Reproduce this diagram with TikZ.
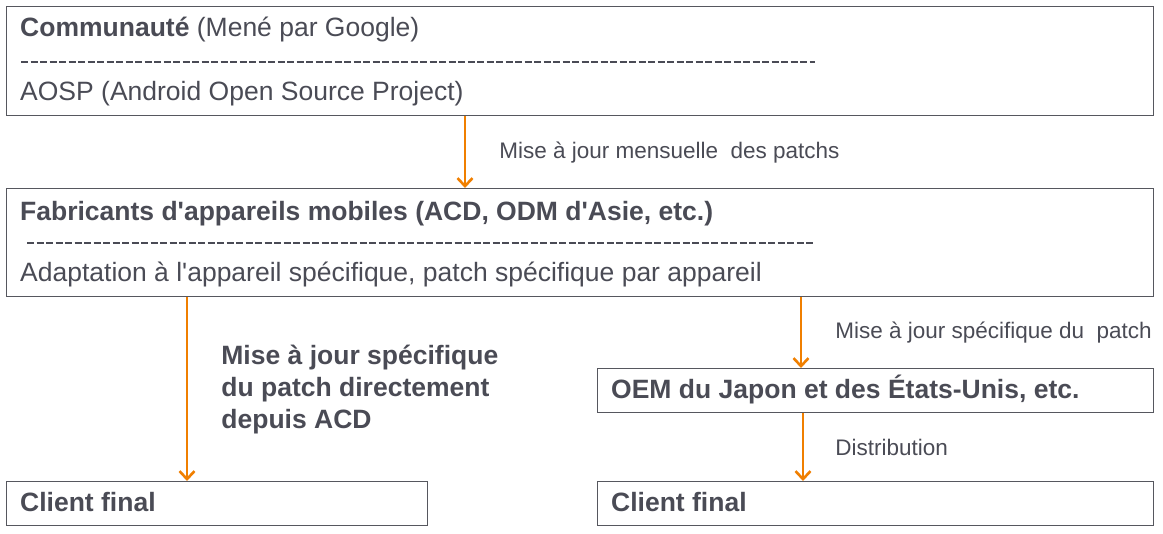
\documentclass[tikz,border=0pt]{standalone}
\usepackage{fontspec}
\setmainfont{Liberation Sans}
\usetikzlibrary{arrows.meta, positioning, calc}
\definecolor{boxgray}{HTML}{56575E}
\definecolor{txtgray}{HTML}{4A4B55}
\definecolor{patchorange}{HTML}{F07F00}

\begin{document}
\begin{tikzpicture}[
  x=1pt, y=-1pt,
  >={Straight Barb[length=8pt, width=15pt, line width=2.6pt]},
  stagebox/.style={
    draw=boxgray, line width=1.2pt, rectangle, anchor=north west, inner sep=0pt
  },
  txt/.style={anchor=base west, inner sep=0pt, text=txtgray,
    font=\fontsize{26.5}{32}\selectfont},
  lbl/.style={inner sep=0pt, text=txtgray, font=\fontsize{22.5}{26}\selectfont},
  sep/.style={draw=txtgray, line width=2pt, dash pattern=on 7pt off 2.5pt},
  arr/.style={->, line width=2.8pt, patchorange},
]

\useasboundingbox (0,0) rectangle (1163,534);

% =============================================
% Communaute
% =============================================
\node[stagebox, minimum width=1147pt, minimum height=109pt] (comm) at (6,6) {};
\node[txt] (commtitle) at (20,37) {\textbf{Communauté} (Mené par Google)};
\draw[sep] (21,62) -- (815,62);
\node[txt] (aosp) at (20,101) {AOSP (Android Open Source Project)};

% =============================================
% Fabricants
% =============================================
\node[stagebox, minimum width=1147pt, minimum height=108pt] (fab) at (6,188) {};
\node[txt] (fabtitle) at (20,221)
  {\textbf{Fabricants d\textquotesingle appareils mobiles (ACD, ODM d\textquotesingle Asie, etc.)}};
\draw[sep] (27,243) -- (815,243);
\node[txt] (adapt) at (20,282)
  {Adaptation à l\textquotesingle appareil spécifique, patch spécifique par appareil};

\draw[arr] ([xshift=459pt]comm.south west) -- node[lbl, right=33pt]
  {Mise à jour mensuelle\ \ des patchs} ([xshift=459pt]fab.north west);

% =============================================
% Left: direct from ACD
% =============================================
\node[stagebox, minimum width=421pt, minimum height=44pt] (clientA) at (6,481) {};
\node[txt] (clientAtxt) at (20,512) {\textbf{Client final}};

\draw[arr] ([xshift=181pt]fab.south west) -- node[lbl, right=33pt, align=left,
  font=\fontsize{26.5}{32}\selectfont\bfseries]
  {Mise à jour spécifique\\du patch directement\\depuis ACD} ([xshift=181pt]clientA.north west);

% =============================================
% Right: via OEM
% =============================================
\node[stagebox, minimum width=556pt, minimum height=44pt] (oem) at (597,368) {};
\node[txt] (oemtxt) at (611,399) {\textbf{OEM du Japon et des États-Unis, etc.}};

\node[stagebox, minimum width=556pt, minimum height=44pt] (clientB) at (597,481) {};
\node[txt] (clientBtxt) at (611,512) {\textbf{Client final}};

\draw[arr] ([xshift=795pt]fab.south west) -- node[lbl, right=33pt]
  {Mise à jour spécifique du\ \ patch} ([xshift=204pt]oem.north west);
\draw[arr] ([xshift=206pt]oem.south west) -- node[lbl, right=31pt]
  {Distribution} ([xshift=206pt]clientB.north west);

\end{tikzpicture}
\end{document}
